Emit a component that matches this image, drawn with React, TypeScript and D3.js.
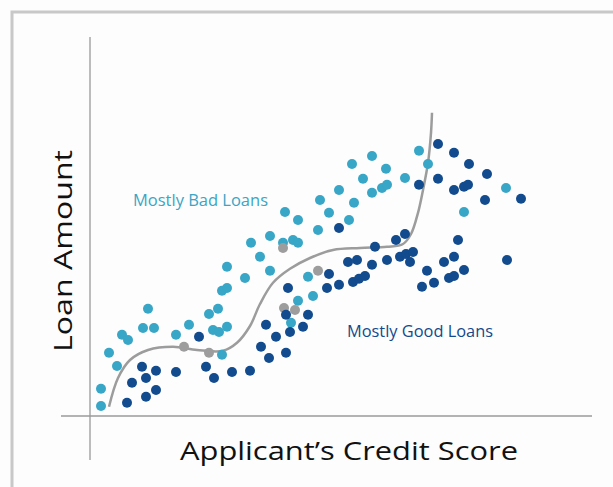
import React, { useEffect, useRef } from "react";
import * as d3 from "d3";

// [credit score, loan amount] on a 0-100 relative scale
const badLoans: [number, number][] = [
  [2.2, 2.5], [2.2, 6.8], [3.8, 15.8], [5.4, 12.5], [6.4, 20.3], [7.6, 19],
  [10.6, 22], [12.8, 22], [11.6, 26.8], [17.2, 20.3], [19.8, 22.8], [23.8, 25.5],
  [25.6, 26.8], [24.6, 21.5], [25.8, 21], [27.4, 22.3], [26.4, 31.3], [27.4, 32],
  [27.4, 37.3], [26.4, 15.3], [31, 34.5], [36, 36.3], [34, 39.8], [32.2, 43.3],
  [36, 45], [38.6, 43.3], [40.6, 44], [41.6, 43.3], [39, 51], [41.6, 49],
  [45.6, 46.5], [46, 54], [47.8, 50.8], [51.8, 49], [49.8, 56.5], [52.8, 53.3],
  [52.4, 63], [56.4, 65], [54.6, 59.3], [59.2, 61.8], [58.4, 57], [59.4, 57.8],
  [56.4, 55.8], [63, 59.5], [65.8, 66.3], [67.6, 63], [74.8, 51], [83.2, 57],
  [43.6, 34.8], [44.6, 30], [41.6, 28.8], [40.2, 23.3],
];

const goodLoans: [number, number][] = [
  [7.4, 3.3], [11.2, 4.8], [13.2, 6.5], [8.4, 8.3], [11.2, 9.5], [10.4, 12.3],
  [13.2, 11.3], [17.2, 11], [21.8, 19.8], [23.2, 12.3], [24.8, 9.5], [28.4, 11],
  [32, 11.3], [34.2, 17.3], [35.8, 14.5], [39.2, 15.8], [37.2, 19.8], [35.2, 22.8],
  [40, 21], [42.6, 22.3], [43.6, 25.3], [39.2, 25.3], [39.6, 32], [47.4, 32],
  [47.8, 35.5], [49.8, 32.8], [52.6, 33.5], [53.8, 34.3], [55, 35], [51.6, 38.5],
  [53.4, 39], [56.4, 37.8], [59.4, 39], [62, 39.8], [63.2, 40.5], [64.6, 41],
  [64, 38.5], [57, 42.3], [61.2, 44], [63, 45.5], [49.8, 47], [67.4, 36.3],
  [66.4, 32.3], [68.8, 33.3], [70.8, 38.5], [72.8, 39.8], [74.8, 36.5], [71.8, 34.5],
  [72.8, 35], [73.6, 44], [83.4, 39], [69.6, 68], [72.8, 65.8], [75.8, 63],
  [79.4, 60.5], [69.6, 59.3], [65.8, 57.8], [72.8, 56.5], [74.8, 57.3], [75.6, 57.8],
  [79, 54], [86.2, 54.3],
];

const unsure: [number, number][] = [
  [18.8, 17.3], [23.8, 15.8], [38.6, 42], [45.6, 36.3], [38.8, 27], [41, 26.5],
];

// decision boundary
const boundary: [number, number][] = [
  [3.8, 2.3], [5.6, 9.5], [8, 14], [11.6, 16.5], [16.6, 17.3], [21.4, 16.5],
  [26.6, 16.3], [29.4, 18.3], [32, 22.5], [34, 28], [36.6, 33.3], [40, 36.8],
  [44, 39.5], [48.6, 41.5], [54, 42], [59.4, 42.3], [62.6, 43], [64.2, 45.5],
  [65.6, 50.8], [66.6, 56.5], [67.6, 63.3], [68.2, 70.8], [68.4, 75.8],
];

const labels = [
  { text: "Mostly Bad Loans", at: [8.6, 52.5], len: 135, color: "#3aa5c4" },
  { text: "Mostly Good Loans", at: [51.4, 19.8], len: 146, color: "#14498c" },
];

const W = 613;
const H = 487;
const FONT = "'Open Sans', sans-serif";

const LoanChart = () => {
  const ref = useRef<SVGSVGElement>(null);

  useEffect(() => {
    const svg = d3.select(ref.current);
    svg.selectAll("*").remove();

    const x = d3.scaleLinear().domain([0, 100]).range([90, 590]);
    const y = d3.scaleLinear().domain([0, 95]).range([416, 36]);

    svg.append("rect").attr("width", W).attr("height", H).attr("fill", "#fdfdfd");

    // frame
    svg
      .append("rect")
      .attr("x", 12)
      .attr("y", 12)
      .attr("width", W + 20)
      .attr("height", H + 20)
      .attr("fill", "none")
      .attr("stroke", "#c8c8c8")
      .attr("stroke-width", 3);

    // axes
    svg
      .append("line")
      .attr("x1", x(0))
      .attr("x2", x(0))
      .attr("y1", y(95) + 1)
      .attr("y2", y(0) + 44)
      .attr("stroke", "#9a9a9a")
      .attr("stroke-width", 1.3);
    svg
      .append("line")
      .attr("x1", x(0) - 29)
      .attr("x2", x(100) + 2)
      .attr("y1", y(0))
      .attr("y2", y(0))
      .attr("stroke", "#9a9a9a")
      .attr("stroke-width", 1.3);

    const line = d3
      .line<[number, number]>()
      .x((d) => x(d[0]))
      .y((d) => y(d[1]))
      .curve(d3.curveCatmullRom.alpha(0.5));

    svg
      .append("path")
      .attr("d", line(boundary))
      .attr("fill", "none")
      .attr("stroke", "#9c9c9c")
      .attr("stroke-width", 2.5);

    const dots = (data: [number, number][], color: string) =>
      svg
        .append("g")
        .selectAll("circle")
        .data(data)
        .enter()
        .append("circle")
        .attr("cx", (d) => x(d[0]))
        .attr("cy", (d) => y(d[1]))
        .attr("r", 5)
        .attr("fill", color);

    dots(badLoans, "#38a6c6");
    dots(unsure, "#9d9d9d");
    dots(goodLoans, "#124b8e");

    svg
      .append("g")
      .selectAll("text")
      .data(labels)
      .enter()
      .append("text")
      .attr("x", (d) => x(d.at[0]))
      .attr("y", (d) => y(d.at[1]))
      .attr("fill", (d) => d.color)
      .attr("textLength", (d) => d.len)
      .attr("lengthAdjust", "spacingAndGlyphs")
      .style("font-family", FONT)
      .style("font-size", "15.5px")
      .text((d) => d.text);

    // axis titles
    svg
      .append("text")
      .attr("x", 180)
      .attr("y", 460)
      .attr("textLength", 338)
      .attr("lengthAdjust", "spacingAndGlyphs")
      .style("font-family", FONT)
      .style("font-size", "25px")
      .attr("fill", "#111")
      .text("Applicant\u2019s Credit Score");

    svg
      .append("text")
      .attr("transform", "translate(72,352)rotate(-90)")
      .attr("textLength", 202)
      .attr("lengthAdjust", "spacingAndGlyphs")
      .style("font-family", FONT)
      .style("font-size", "25px")
      .attr("fill", "#111")
      .text("Loan Amount");
  }, []);

  return (
    <svg
      ref={ref}
      width={W}
      height={H}
      style={{ position: "absolute", left: 0, top: 0, display: "block" }}
    />
  );
};

export default function App() {
  return <LoanChart />;
}
